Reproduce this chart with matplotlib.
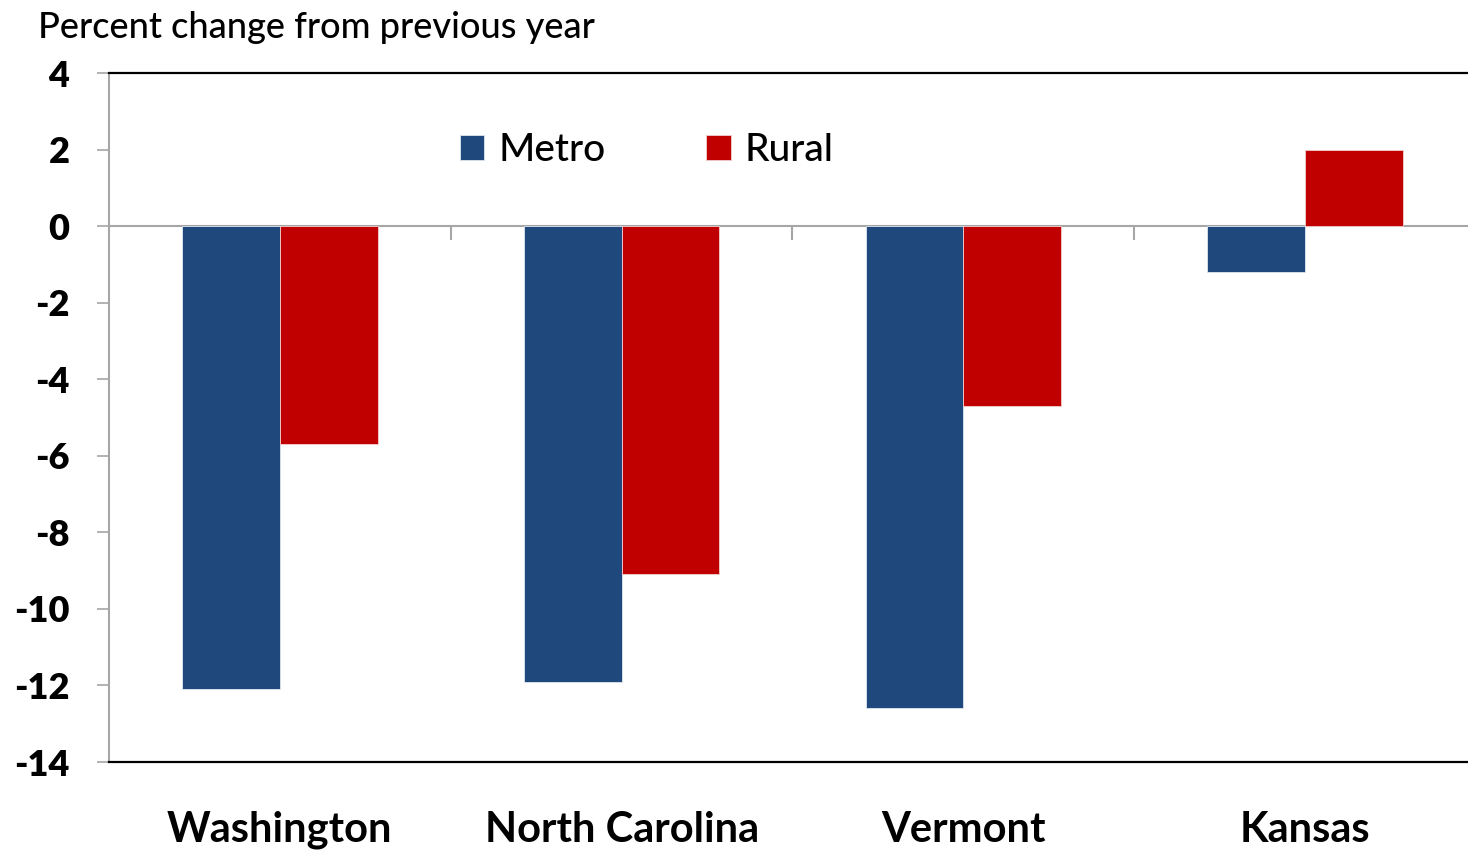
import matplotlib.pyplot as plt
import numpy as np

states = ['Washington', 'North Carolina', 'Vermont', 'Kansas']
metro = [-12.1, -11.9, -12.6, -1.2]
rural = [-5.7, -9.1, -4.7, 2.0]
yticks = [4, 2, 0, -2, -4, -6, -8, -10, -12, -14]

plt.rcParams['font.family'] = ['Lato', 'DejaVu Sans']

fig = plt.figure(figsize=(14.68, 8.51), dpi=100)
# plot area runs slightly past the right edge of the picture, as in the reference
ax = fig.add_axes([109 / 1468, 89 / 851, 1367 / 1468, 689 / 851])

x = np.arange(len(states))
w = 0.286
ax.bar(x - w / 2, metro, w, color='#1F497C', edgecolor='#dfe6ee', linewidth=0.6, label='Metro', zorder=2)
ax.bar(x + w / 2, rural, w, color='#C00000', edgecolor='#f2d0d0', linewidth=0.6, label='Rural', zorder=2)

# zero line with category separator ticks
ax.axhline(0, color='#a6a6a6', linewidth=1.5, zorder=1)
ax.vlines(x[:-1] + 0.5, -0.37, 0, color='#a6a6a6', linewidth=1.5, zorder=1)

ax.set_xlim(-0.5, len(states) - 0.5)
ax.set_ylim(-14, 4)
ax.set_yticks(yticks)
ax.set_yticklabels([str(t) for t in yticks], fontsize=26, fontweight='heavy')
ax.set_xticks(x)
ax.set_xticklabels(states, fontsize=30, fontweight='bold')
ax.tick_params(axis='x', length=0, pad=35)
ax.tick_params(axis='y', length=8.5, width=1.2, color='#a6a6a6', pad=20)

ax.spines['right'].set_visible(False)
ax.spines['top'].set_color('black')
ax.spines['top'].set_linewidth(1.6)
ax.spines['bottom'].set_color('black')
ax.spines['bottom'].set_linewidth(1.6)
ax.spines['left'].set_color('#a6a6a6')
ax.spines['left'].set_linewidth(1.5)

ax.legend(loc='center left', bbox_to_anchor=(0.257, 0.887), ncol=2, frameon=False,
          handlelength=0.62, handleheight=0.62, handletextpad=0.35,
          columnspacing=2.6, borderaxespad=0, borderpad=0,
          prop={'size': 28, 'weight': 'medium'})

fig.text(38 / 1468, 1 - 27 / 851, 'Percent change from previous year', fontsize=26,
         fontweight='medium', va='center', ha='left')

fig.savefig('out.png', dpi=100)
